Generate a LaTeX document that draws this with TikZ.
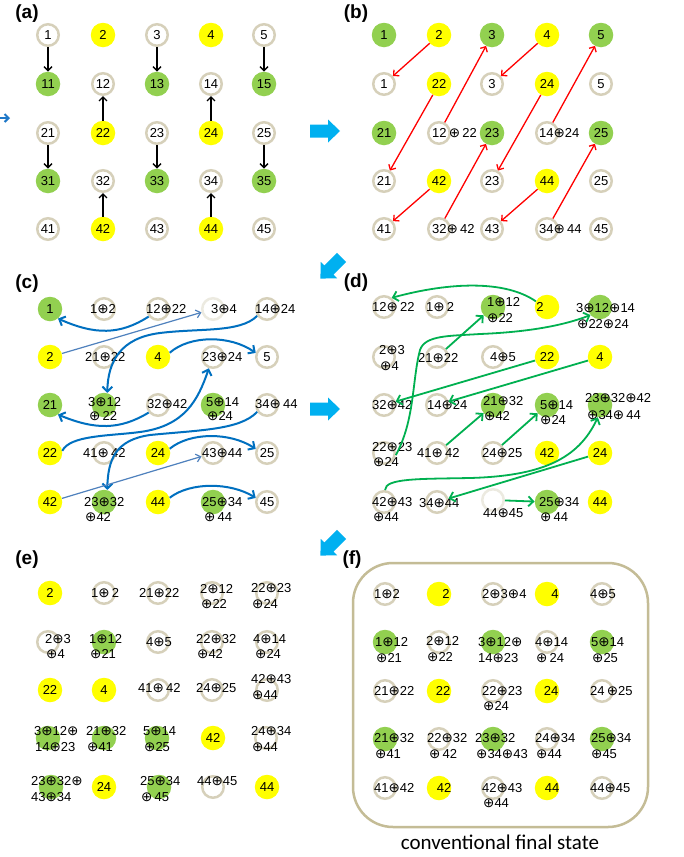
\documentclass[tikz,border=0pt]{standalone}
\usepackage{fontspec}
\setmainfont{Liberation Sans}
\newfontfamily\capfont{Carlito}
\newfontfamily\symf{DejaVu Sans}
\usetikzlibrary{arrows.meta}
\definecolor{ringc}{HTML}{D6D0BA}
\definecolor{ringl}{HTML}{ECEAE0}
\definecolor{grn}{HTML}{92D050}
\definecolor{yel}{HTML}{FFFF00}
\definecolor{boxc}{HTML}{C4BC96}
\definecolor{bigarr}{HTML}{00B0F0}
\definecolor{curveblue}{HTML}{0070C0}
\definecolor{thinblue}{HTML}{4F81BD}
\definecolor{grnarr}{HTML}{00B050}
\definecolor{edgeblue}{HTML}{1F78C8}
\newcommand\numfont{\fontsize{13}{15}\selectfont}
\newcommand\xo{{\symf\fontsize{13.5}{15}\selectfont ⊕}}
% label anchored at its left end / at its centre
\newcommand\Lw[4]{\node[txt] (#1) at (#2,#3) {#4};}
\newcommand\Lc[4]{\node[txtc] (#1) at (#2,#3) {#4};}
% wide block arrow between panels
\newcommand\bigarrow[3]{\fill[fill=bigarr, shift={(#1,#2)}, rotate=#3] (-15,-6.5) -- (3,-6.5) -- (3,-11.5) -- (15,0) -- (3,11.5) -- (3,6.5) -- (-15,6.5) -- cycle;}
\tikzset{
  ring/.style={circle, draw=ringc, line width=2.5pt, minimum size=21.5pt, inner sep=0pt, font=\numfont},
  ringlt/.style={ring, draw=ringl},
  grnc/.style={circle, fill=grn, minimum size=24.5pt, inner sep=0pt, font=\numfont},
  yelc/.style={circle, fill=yel, minimum size=24.5pt, inner sep=0pt, font=\numfont},
  txt/.style={anchor=west, inner sep=0pt, text height=9.5pt, text depth=0pt, font=\numfont},
  txtc/.style={txt, anchor=center},
  plabel/.style={font=\bfseries\fontsize{19}{22}\selectfont, inner sep=0pt},
  blk/.style={draw=black, line width=1.3pt, -{Straight Barb[length=4pt,width=8pt]}},
  redarr/.style={draw=red, line width=1.3pt, -{Straight Barb[length=4pt,width=8pt]}},
  barr/.style={draw=curveblue, line width=2pt, -{Straight Barb[length=5pt,width=10pt]}},
  tarr/.style={draw=thinblue, line width=1.2pt, -{Straight Barb[length=4.5pt,width=8pt]}},
  garr/.style={draw=grnarr, line width=1.8pt, -{Straight Barb[length=5pt,width=10pt]}},
}
\begin{document}
\begin{tikzpicture}[x=1pt, y=-1pt]
\fill[white] (0,0) rectangle (683,857);
\useasboundingbox (0,0) rectangle (683,857);

% ---------- panel labels ----------
\node[plabel] (la) at (27,14) {(a)};
\node[plabel] (lb) at (356,14) {(b)};
\node[plabel] (lc) at (27,284) {(c)};
\node[plabel] (ld) at (356,283) {(d)};
\node[plabel] (le) at (27,560) {(e)};
\node[plabel] (lf) at (352,560) {(f)};

% ---------- block arrows ----------
\bigarrow{325}{131}{0}
\bigarrow{331}{268}{225}
\bigarrow{325}{409}{0}
\bigarrow{331}{545}{225}
\coordinate (e0) at (-10,118);
\coordinate (e1) at (10,118);
\draw[draw=edgeblue, line width=2pt, -{Straight Barb[length=4pt,width=8pt]}] (e0) -- (e1);

% ---------- (a) ----------
\node[ring] (a00) at (48,35) {1};
\node[yelc] (a01) at (103,35) {2};
\node[ring] (a02) at (157,35) {3};
\node[yelc] (a03) at (211,35) {4};
\node[ring] (a04) at (264,35) {5};
\node[grnc] (a10) at (48,84) {11};
\node[ring] (a11) at (103,84) {12};
\node[grnc] (a12) at (157,84) {13};
\node[ring] (a13) at (211,84) {14};
\node[grnc] (a14) at (264,84) {15};
\node[ring] (a20) at (48,133) {21};
\node[yelc] (a21) at (103,133) {22};
\node[ring] (a22) at (157,133) {23};
\node[yelc] (a23) at (211,133) {24};
\node[ring] (a24) at (264,133) {25};
\node[grnc] (a30) at (48,181) {31};
\node[ring] (a31) at (103,181) {32};
\node[grnc] (a32) at (157,181) {33};
\node[ring] (a33) at (211,181) {34};
\node[grnc] (a34) at (264,181) {35};
\node[ring] (a40) at (48,229) {41};
\node[yelc] (a41) at (103,229) {42};
\node[ring] (a42) at (157,229) {43};
\node[yelc] (a43) at (211,229) {44};
\node[ring] (a44) at (264,229) {45};
\draw[blk] (a00) -- (a10);
\draw[blk] (a02) -- (a12);
\draw[blk] (a04) -- (a14);
\draw[blk] (a20) -- (a30);
\draw[blk] (a22) -- (a32);
\draw[blk] (a24) -- (a34);
\draw[blk] (a21) -- (a11);
\draw[blk] (a23) -- (a13);
\draw[blk] (a41) -- (a31);
\draw[blk] (a43) -- (a33);

% ---------- (b) ----------
\node[grnc] (b00) at (384,35) {1};
\node[yelc] (b01) at (439,35) {2};
\node[grnc] (b02) at (492,35) {3};
\node[yelc] (b03) at (547,35) {4};
\node[grnc] (b04) at (601,35) {5};
\node[ring] (b10) at (384,84) {1};
\node[yelc] (b11) at (439,84) {22};
\node[ring] (b12) at (492,84) {3};
\node[yelc] (b13) at (547,84) {24};
\node[ring] (b14) at (601,84) {5};
\node[grnc] (b20) at (384,133) {21};
\node[ring] (b21) at (439,133) {};
\node[grnc] (b22) at (492,133) {23};
\node[ring] (b23) at (547,133) {};
\node[grnc] (b24) at (601,133) {25};
\node[ring] (b30) at (384,181) {21};
\node[yelc] (b31) at (439,181) {42};
\node[ring] (b32) at (492,181) {23};
\node[yelc] (b33) at (547,181) {44};
\node[ring] (b34) at (601,181) {25};
\node[ring] (b40) at (384,229) {41};
\node[ring] (b41) at (439,229) {};
\node[ring] (b42) at (492,229) {43};
\node[ring] (b43) at (547,229) {};
\node[ring] (b44) at (601,229) {45};
\Lw{b21t}{432}{133}{12\,\xo\,22}
\Lw{b23t}{539}{133}{14\xo24}
\Lw{b41t}{432}{229}{32\xo\,42}
\Lw{b43t}{539}{229}{34\xo\,44}
\draw[redarr] (b01) -- (b10);
\draw[redarr] (b21) -- (b02);
\draw[redarr] (b03) -- (b12);
\draw[redarr] (b11) -- (b30);
\draw[redarr] (b23) -- (b04);
\draw[redarr] (b13) -- (b32);
\draw[redarr] (b31) -- (b40);
\draw[redarr] (b41) -- (b22);
\draw[redarr] (b33) -- (b42);
\draw[redarr] (b43) -- (b24);

% ---------- (c) ----------
\node[grnc] (c00) at (50,309) {1};
\node[ring] (c01) at (104,309) {};
\node[ring] (c02) at (158,309) {};
\node[ringlt] (c03) at (213,309) {};
\node[ring] (c04) at (267,309) {};
\node[yelc] (c10) at (50,357) {2};
\node[ring] (c11) at (104,357) {};
\node[yelc] (c12) at (158,357) {4};
\node[ring] (c13) at (213,357) {};
\node[ring] (c14) at (267,357) {5};
\node[grnc] (c20) at (50,405) {21};
\node[grnc] (c21) at (104,405) {};
\node[ring] (c22) at (158,405) {};
\node[grnc] (c23) at (213,405) {};
\node[ring] (c24) at (267,405) {};
\node[yelc] (c30) at (50,453) {22};
\node[ring] (c31) at (104,453) {};
\node[yelc] (c32) at (158,453) {24};
\node[ring] (c33) at (213,453) {};
\node[ring] (c34) at (267,453) {25};
\node[yelc] (c40) at (50,502) {42};
\node[grnc] (c41) at (104,502) {};
\node[yelc] (c42) at (158,502) {44};
\node[grnc] (c43) at (213,502) {};
\node[ring] (c44) at (267,502) {45};
\Lw{c01t}{90}{309}{1\xo2}
\Lw{c02t}{146}{309}{12\xo22}
\Lw{c03t}{211}{309}{3\xo4}
\Lw{c04t}{255}{309}{14\xo24}
\Lw{c11t}{85}{357}{21\xo22}
\Lw{c13t}{202}{357}{23\xo24}
\Lw{c21a}{88}{402}{3\xo12}
\Lw{c21b}{89}{416}{\xo\,22}
\Lw{c22t}{147}{404}{32\xo42}
\Lw{c23a}{206}{402}{5\xo14}
\Lw{c23b}{207}{416}{\xo24}
\Lw{c24t}{255}{404}{34\xo\,44}
\Lw{c31t}{83}{453}{41\xo\,42}
\Lw{c33t}{202}{453}{43\xo44}
\Lw{c41a}{84}{502}{23\xo32}
\Lw{c41b}{85}{517}{\xo42}
\Lw{c43a}{202}{502}{25\xo34}
\Lw{c43b}{204}{517}{\xo\,44}
\draw[barr] (c02.219) .. controls (120,335) and (95,335) .. (c00.-50);
\draw[tarr] (c10) -- (c03);
\draw[barr] (c04.215) .. controls (240,333) and (200,328) .. (160,333) .. controls (120,338) and (108,362) .. (c21.75);
\draw[barr] (c12.20) .. controls (190,335) and (230,335) .. (c14.160);
\draw[barr] (c22.219) .. controls (120,430) and (95,430) .. (c20.-50);
\draw[barr] (c30.10) .. controls (70,435) and (110,436) .. (140,432) .. controls (185,426) and (198,400) .. (c13.250);
\draw[barr] (c24.215) .. controls (240,430) and (200,430) .. (150,435) .. controls (115,440) and (108,460) .. (c41.75);
\draw[barr] (c32.20) .. controls (190,432) and (230,432) .. (c34.160);
\draw[tarr] (c40) -- (c33);
\draw[barr] (c42.20) .. controls (190,482) and (230,482) .. (c44.160);

% ---------- (d) ----------
\node[ring] (d00) at (384,307) {};
\node[ring] (d01) at (437,307) {};
\node[grnc] (d02) at (493,307) {};
\node[yelc] (d03) at (547,307) {};
\node[grnc] (d04) at (600,307) {};
\node[ring] (d10) at (384,357) {};
\node[ring] (d11) at (437,357) {};
\node[ring] (d12) at (493,357) {};
\node[yelc] (d13) at (547,357) {22};
\node[yelc] (d14) at (600,357) {4};
\node[ring] (d20) at (384,405) {};
\node[ring] (d21) at (437,405) {};
\node[grnc] (d22) at (493,405) {};
\node[grnc] (d23) at (547,405) {};
\node[grnc] (d24) at (600,405) {};
\node[ring] (d30) at (384,453) {};
\node[ring] (d31) at (437,453) {};
\node[ring] (d32) at (493,453) {};
\node[yelc] (d33) at (547,453) {42};
\node[yelc] (d34) at (600,453) {24};
\node[ring] (d40) at (384,502) {};
\node[ring] (d41) at (437,502) {};
\node[ringlt] (d42) at (493,500) {};
\node[grnc] (d43) at (547,502) {};
\node[yelc] (d44) at (600,502) {44};
\Lw{d00t}{372}{307}{12\xo\,22}
\Lw{d01t}{426}{307}{1\xo\,2}
\Lw{d02a}{487}{302}{1\xo12}
\Lw{d02b}{487}{318}{\xo22}
\Lc{d03t}{540}{307}{2}
\Lw{d04a}{576}{308}{3\xo12\xo14}
\Lw{d04b}{577}{324}{\xo22\xo24}
\Lw{d10a}{379}{350}{2\xo3}
\Lw{d10b}{380}{366}{\xo4}
\Lw{d11t}{418}{358}{21\xo22}
\Lw{d12t}{490}{357}{4\xo5}
\Lw{d20t}{372}{405}{32\xo42}
\Lw{d21t}{427}{405}{14\xo24}
\Lw{d22a}{483}{401}{21\xo32}
\Lw{d22b}{484}{416}{\xo42}
\Lw{d23a}{540}{405}{5\xo14}
\Lw{d23b}{540}{420}{\xo24}
\Lw{d24a}{585}{398}{23\xo32\xo42}
\Lw{d24b}{587}{415}{\xo34\xo\,44}
\Lw{d30a}{372}{447}{22\xo23}
\Lw{d30b}{373}{462}{\xo24}
\Lw{d31t}{417}{453}{41\xo\,42}
\Lw{d32t}{482}{453}{24\xo25}
\Lw{d40a}{372}{502}{42\xo43}
\Lw{d40b}{373}{517}{\xo44}
\Lw{d41t}{419}{503}{34\xo44}
\Lw{d42t}{483}{513}{44\xo45}
\Lw{d43a}{539}{502}{25\xo34}
\Lw{d43b}{540}{517}{\xo\,44}
\draw[garr] (d03.153) .. controls (505,280) and (450,282) .. (d00.50);
\draw[garr] (d11) -- (d02);
\draw[garr] (d30.-10) .. controls (415,420) and (412,380) .. (420,350) .. controls (425,335) and (450,336) .. (480,334) .. controls (530,332) and (565,325) .. (d04.220);
\draw[garr] (d13) -- (d20);
\draw[garr] (d14) -- (d21);
\draw[garr] (d31) -- (d22);
\draw[garr] (d32) -- (d23);
\draw[garr] (d40.85) .. controls (385,478) and (420,479) .. (470,478) .. controls (540,476) and (578,460) .. (d24.-100);
\draw[garr] (d34) -- (d41);
\draw[garr] (d42) -- (d43);

% ---------- (e) ----------
\node[yelc] (e00) at (50,593) {2};
\node[ring] (e01) at (104,593) {};
\node[ring] (e02) at (158,593) {};
\node[ring] (e03) at (212,593) {};
\node[ring] (e04) at (267,593) {};
\node[ring] (e10) at (48,642) {};
\node[grnc] (e11) at (104,642) {};
\node[ring] (e12) at (158,642) {};
\node[ring] (e13) at (212,642) {};
\node[ring] (e14) at (267,642) {};
\node[yelc] (e20) at (50,690) {22};
\node[yelc] (e21) at (104,690) {4};
\node[ring] (e22) at (158,690) {};
\node[ring] (e23) at (212,690) {};
\node[ring] (e24) at (267,690) {};
\node[grnc] (e30) at (48,738) {};
\node[grnc] (e31) at (104,738) {};
\node[grnc] (e32) at (157,738) {};
\node[yelc] (e33) at (213,738) {42};
\node[ring] (e34) at (266,738) {};
\node[grnc] (e40) at (51,787) {};
\node[yelc] (e41) at (104,787) {24};
\node[grnc] (e42) at (159,787) {};
\node[ring] (e43) at (213,787) {};
\node[yelc] (e44) at (267,787) {44};
\Lw{e01t}{91}{593}{1\xo\,2}
\Lw{e02t}{139}{593}{21\xo22}
\Lw{e03a}{200}{589}{2\xo12}
\Lw{e03b}{201}{604}{\xo22}
\Lw{e04a}{251}{588}{22\xo23}
\Lw{e04b}{252}{604}{\xo24}
\Lw{e10a}{45}{639}{2\xo3}
\Lw{e10b}{46}{654}{\xo4}
\Lw{e11a}{89}{639}{1\xo12}
\Lw{e11b}{90}{654}{\xo21}
\Lw{e12t}{146}{642}{4\xo5}
\Lw{e13a}{196}{639}{22\xo32}
\Lw{e13b}{197}{654}{\xo42}
\Lw{e14a}{253}{639}{4\xo14}
\Lw{e14b}{255}{654}{\xo24}
\Lw{e22t}{138}{688}{41\xo\,42}
\Lw{e23t}{196}{688}{24\xo25}
\Lw{e24a}{251}{679}{42\xo43}
\Lw{e24b}{252}{695}{\xo44}
\Lw{e30a}{34}{731}{3\xo12\xo}
\Lw{e30b}{35}{747}{14\xo23}
\Lw{e31a}{86}{731}{21\xo32}
\Lw{e31b}{87}{747}{\xo41}
\Lw{e32a}{143}{731}{5\xo14}
\Lw{e32b}{144}{747}{\xo25}
\Lw{e34a}{251}{731}{24\xo34}
\Lw{e34b}{252}{747}{\xo44}
\Lw{e40a}{31}{781}{23\xo32\xo}
\Lw{e40b}{31}{797}{43\xo34}
\Lw{e42a}{140}{781}{25\xo34}
\Lw{e42b}{141}{797}{\xo\,45}
\Lw{e43t}{197}{781}{44\xo45}

% ---------- (f) ----------
\draw[draw=boxc, line width=2.5pt, rounded corners=40pt] (353,563) rectangle (648,827);
\node[ring] (f00) at (385,594) {};
\node[yelc] (f01) at (439,594) {};
\node[ring] (f02) at (493,594) {};
\node[yelc] (f03) at (547,594) {};
\node[ring] (f04) at (602,594) {};
\node[grnc] (f10) at (385,642) {};
\node[ring] (f11) at (439,642) {};
\node[grnc] (f12) at (493,642) {};
\node[ring] (f13) at (547,642) {};
\node[grnc] (f14) at (602,642) {};
\node[ring] (f20) at (385,691) {};
\node[yelc] (f21) at (439,691) {};
\node[ring] (f22) at (493,691) {};
\node[yelc] (f23) at (547,691) {};
\node[ring] (f24) at (602,691) {};
\node[grnc] (f30) at (385,739) {};
\node[ring] (f31) at (439,739) {};
\node[grnc] (f32) at (493,739) {};
\node[ring] (f33) at (547,739) {};
\node[grnc] (f34) at (602,739) {};
\node[ring] (f40) at (385,788) {};
\node[yelc] (f41) at (439,788) {};
\node[ring] (f42) at (493,788) {};
\node[yelc] (f43) at (547,788) {};
\node[ring] (f44) at (602,788) {};
\Lw{f00t}{374}{594}{1\xo2}
\Lc{f01t}{446}{594}{2}
\Lw{f02t}{482}{594}{2\xo3\xo4}
\Lc{f03t}{555}{594}{4}
\Lw{f04t}{590}{594}{4\xo5}
\Lw{f10a}{375}{642}{1\xo12}
\Lw{f10b}{376}{658}{\xo21}
\Lw{f11a}{426}{641}{2\xo12}
\Lw{f11b}{427}{657}{\xo22}
\Lw{f12a}{478}{642}{3\xo12\xo}
\Lw{f12b}{478}{658}{14\xo23}
\Lw{f13a}{535}{642}{4\xo14}
\Lw{f13b}{536}{658}{\xo\,24}
\Lw{f14a}{591}{642}{5\xo14}
\Lw{f14b}{592}{658}{\xo25}
\Lw{f20t}{374}{691}{21\xo22}
\Lc{f21t}{443}{691}{22}
\Lw{f22a}{482}{691}{22\xo23}
\Lw{f22b}{483}{706}{\xo24}
\Lc{f23t}{551}{691}{24}
\Lw{f24t}{590}{691}{24\,\xo25}
\Lw{f30a}{374}{738}{21\xo32}
\Lw{f30b}{375}{754}{\xo41}
\Lw{f31a}{427}{738}{22\xo32}
\Lw{f31b}{429}{754}{\xo\,42}
\Lw{f32a}{475}{738}{23\xo32}
\Lw{f32b}{476}{754}{\xo34\xo43}
\Lw{f33a}{535}{738}{24\xo34}
\Lw{f33b}{536}{754}{\xo44}
\Lw{f34a}{591}{738}{25\xo34}
\Lw{f34b}{591}{754}{\xo45}
\Lw{f40t}{374}{788}{41\xo42}
\Lc{f41t}{444}{788}{42}
\Lw{f42a}{482}{788}{42\xo43}
\Lw{f42b}{483}{803}{\xo44}
\Lc{f43t}{552}{788}{44}
\Lw{f44t}{590}{788}{44\xo45}
\node[font=\capfont\fontsize{21}{24}\selectfont, inner sep=0pt] (cap) at (500,842) {conventional final state};
\end{tikzpicture}
\end{document}
